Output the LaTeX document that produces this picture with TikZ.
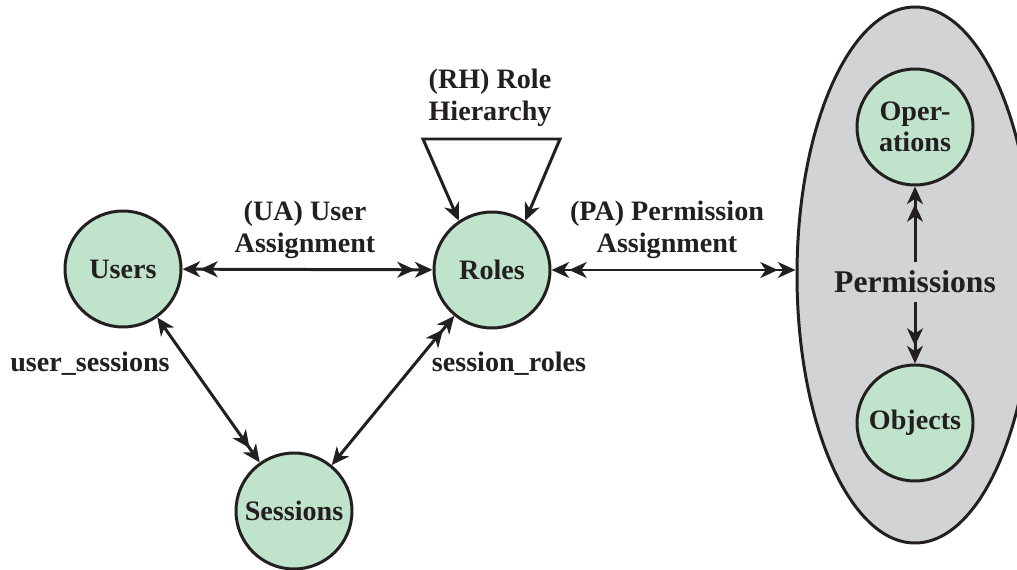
\documentclass[tikz,border=0pt]{standalone}
\usepackage{fontspec}
\setmainfont{Liberation Serif}
\usetikzlibrary{arrows.meta,shapes.geometric}
\definecolor{entgreen}{HTML}{C0E3CC}
\definecolor{permgray}{HTML}{D1D3D4}
\definecolor{ink}{HTML}{231F20}
\begin{document}
\begin{tikzpicture}[
    sgl/.tip={Stealth[length=10pt,width=9pt,inset=3pt]},
    dbl/.tip={Stealth[length=10pt,width=9pt,inset=3pt] Stealth[length=10pt,width=9pt,inset=3pt]},
    every node/.style={text=ink, font=\bfseries\fontsize{16}{18}\selectfont},
    ent/.style={circle, draw=ink, line width=1.7pt, fill=entgreen, minimum size=2.32cm, inner sep=0pt, align=center},
    rel/.style={draw=ink, line width=1.7pt},
    lbl/.style={align=center}
  ]
            \useasboundingbox (0,0) rectangle (20.34,11.4);
            \node[ellipse, draw=ink, line width=1.7pt, fill=permgray, minimum width=4.72cm, minimum height=10.72cm] (P) at (18.3,5.9){};
            \node[ent] (U) at (2.46,6.02){Users};
            \node[ent] (R) at (9.84,6.0){Roles};
            \node[ent] (S) at (5.88,1.18){Sessions};
            \node[ent] (Op) at (18.3,8.86){Oper-\\ations};
            \node[ent] (Ob) at (18.3,2.94){Objects};
            \node[font=\bfseries\fontsize{18}{20}\selectfont, inner sep=5pt] (Pl) at (18.3,5.76){Permissions};
            \node[lbl] (RH) at (9.8,9.44){(RH) Role\\Hierarchy};
            \node[lbl] (UA) at (6.1,6.8){(UA) User\\Assignment};
            \node[lbl] (PA) at (13.34,6.8){(PA) Permission\\Assignment};
            \node (us) at (1.8,4.12){user\_sessions};
            \node (sr) at (10.18,4.12){session\_roles};
            \coordinate (rhL) at (8.46,8.62);
            \coordinate (rhR) at (11.2,8.62);
            \draw[rel,dbl-dbl] (U) -- (R);
            \draw[rel,dbl-dbl] (R) -- (R.east -| P.west);
            \draw[rel,sgl-dbl] (U) -- (S);
            \draw[rel,sgl-dbl] (S) -- (R);
            \draw[rel,sgl-sgl,line join=miter] (R.124) -- (rhL) -- (rhR) -- (R.56);
            \draw[rel,-dbl] (Pl) -- (Op);
            \draw[rel,-dbl] (Pl) -- (Ob);
        \end{tikzpicture}
\end{document}
